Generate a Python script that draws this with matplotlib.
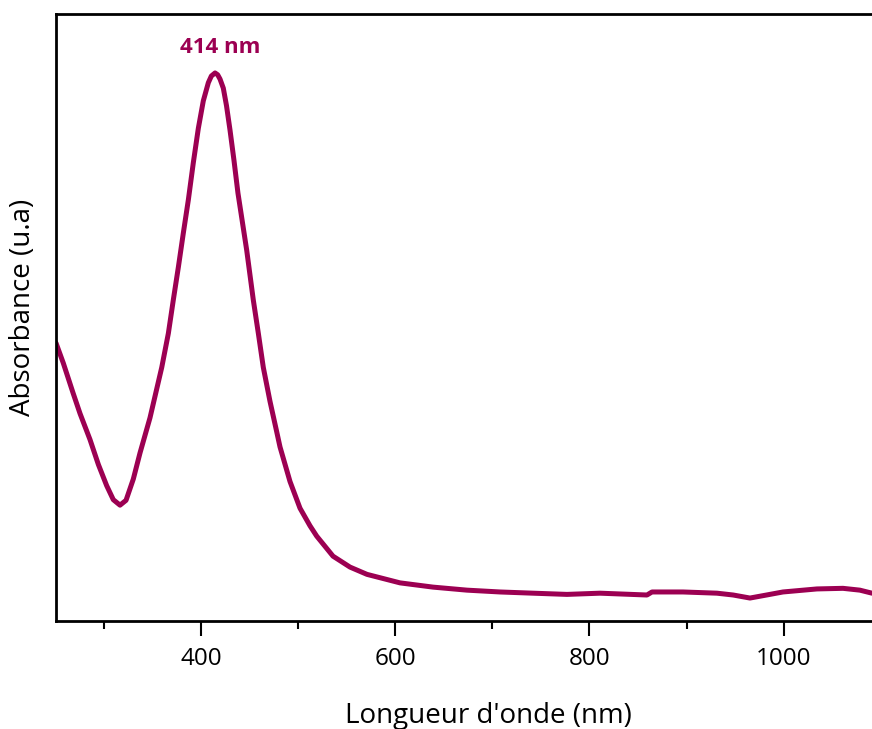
import matplotlib
matplotlib.use('Agg')
import matplotlib.pyplot as plt
from matplotlib.ticker import MultipleLocator

# UV-Vis spectrum (absorbance in arbitrary units)
wavelength = [250.5, 258.0, 268.0, 275.2, 285.5, 294.1, 302.7, 309.5, 316.4, 322.6,
              330.1, 337.0, 347.3, 359.4, 366.2, 371.3, 376.5, 381.6, 386.8, 391.9,
              397.1, 402.2, 407.4, 410.5, 414.3, 417.0, 419.4, 422.8, 426.1, 429.7,
              433.8, 437.9, 446.9, 453.7, 458.9, 464.0, 470.9, 477.8, 481.2, 491.5,
              501.8, 512.1, 519.0, 535.8, 553.3, 570.8, 604.8, 638.8, 673.8, 707.8,
              741.8, 776.8, 810.8, 859.2, 864.4, 896.3, 931.3, 948.0, 965.3, 982.4,
              999.3, 1034.3, 1061.1, 1078.5, 1091.0]
absorbance = [0.458, 0.425, 0.376, 0.342, 0.299, 0.258, 0.223, 0.200, 0.191, 0.199,
              0.234, 0.277, 0.335, 0.418, 0.474, 0.529, 0.583, 0.639, 0.694, 0.755,
              0.812, 0.857, 0.887, 0.898, 0.903, 0.900, 0.893, 0.878, 0.849, 0.809,
              0.759, 0.705, 0.611, 0.529, 0.474, 0.418, 0.362, 0.312, 0.287, 0.230,
              0.186, 0.157, 0.140, 0.107, 0.089, 0.077, 0.063, 0.056, 0.051, 0.048,
              0.046, 0.044, 0.046, 0.043, 0.048, 0.048, 0.046, 0.043, 0.038, 0.043,
              0.048, 0.053, 0.054, 0.051, 0.046]

peak_nm = 414
peak_label = '414 nm'
line_color = '#9c0052'

plt.rcParams['font.family'] = ['Open Sans', 'DejaVu Sans']

fig = plt.figure(figsize=(8.72, 7.29), dpi=100)
ax = fig.add_axes([0.0637, 0.148, 0.9363, 0.8327])

ax.plot(wavelength, absorbance, color=line_color, linewidth=3.6,
        solid_joinstyle='round', solid_capstyle='round')
ax.text(peak_nm + 6, 0.945, peak_label, color=line_color, fontsize=16, fontweight='bold',
        ha='center', va='center')

ax.set_xlim(250, 1091)
ax.set_ylim(0, 1)
ax.xaxis.set_major_locator(MultipleLocator(200))
ax.xaxis.set_minor_locator(MultipleLocator(100))
ax.set_yticks([])
ax.tick_params(axis='x', which='major', direction='out', length=11, width=1.5,
               labelsize=17.5, pad=8)
ax.tick_params(axis='x', which='minor', direction='out', length=6, width=1.5)
for side in ['left', 'bottom', 'top']:
    ax.spines[side].set_linewidth(2)
ax.spines['right'].set_visible(False)

ax.set_xlabel("Longueur d'onde (nm)", fontsize=20)
ax.set_ylabel('Absorbance (u.a)', fontsize=20)
ax.xaxis.set_label_coords(0.53, -0.134)
ax.yaxis.set_label_coords(-0.023, 0.517)

fig.savefig('out.png', dpi=100)
